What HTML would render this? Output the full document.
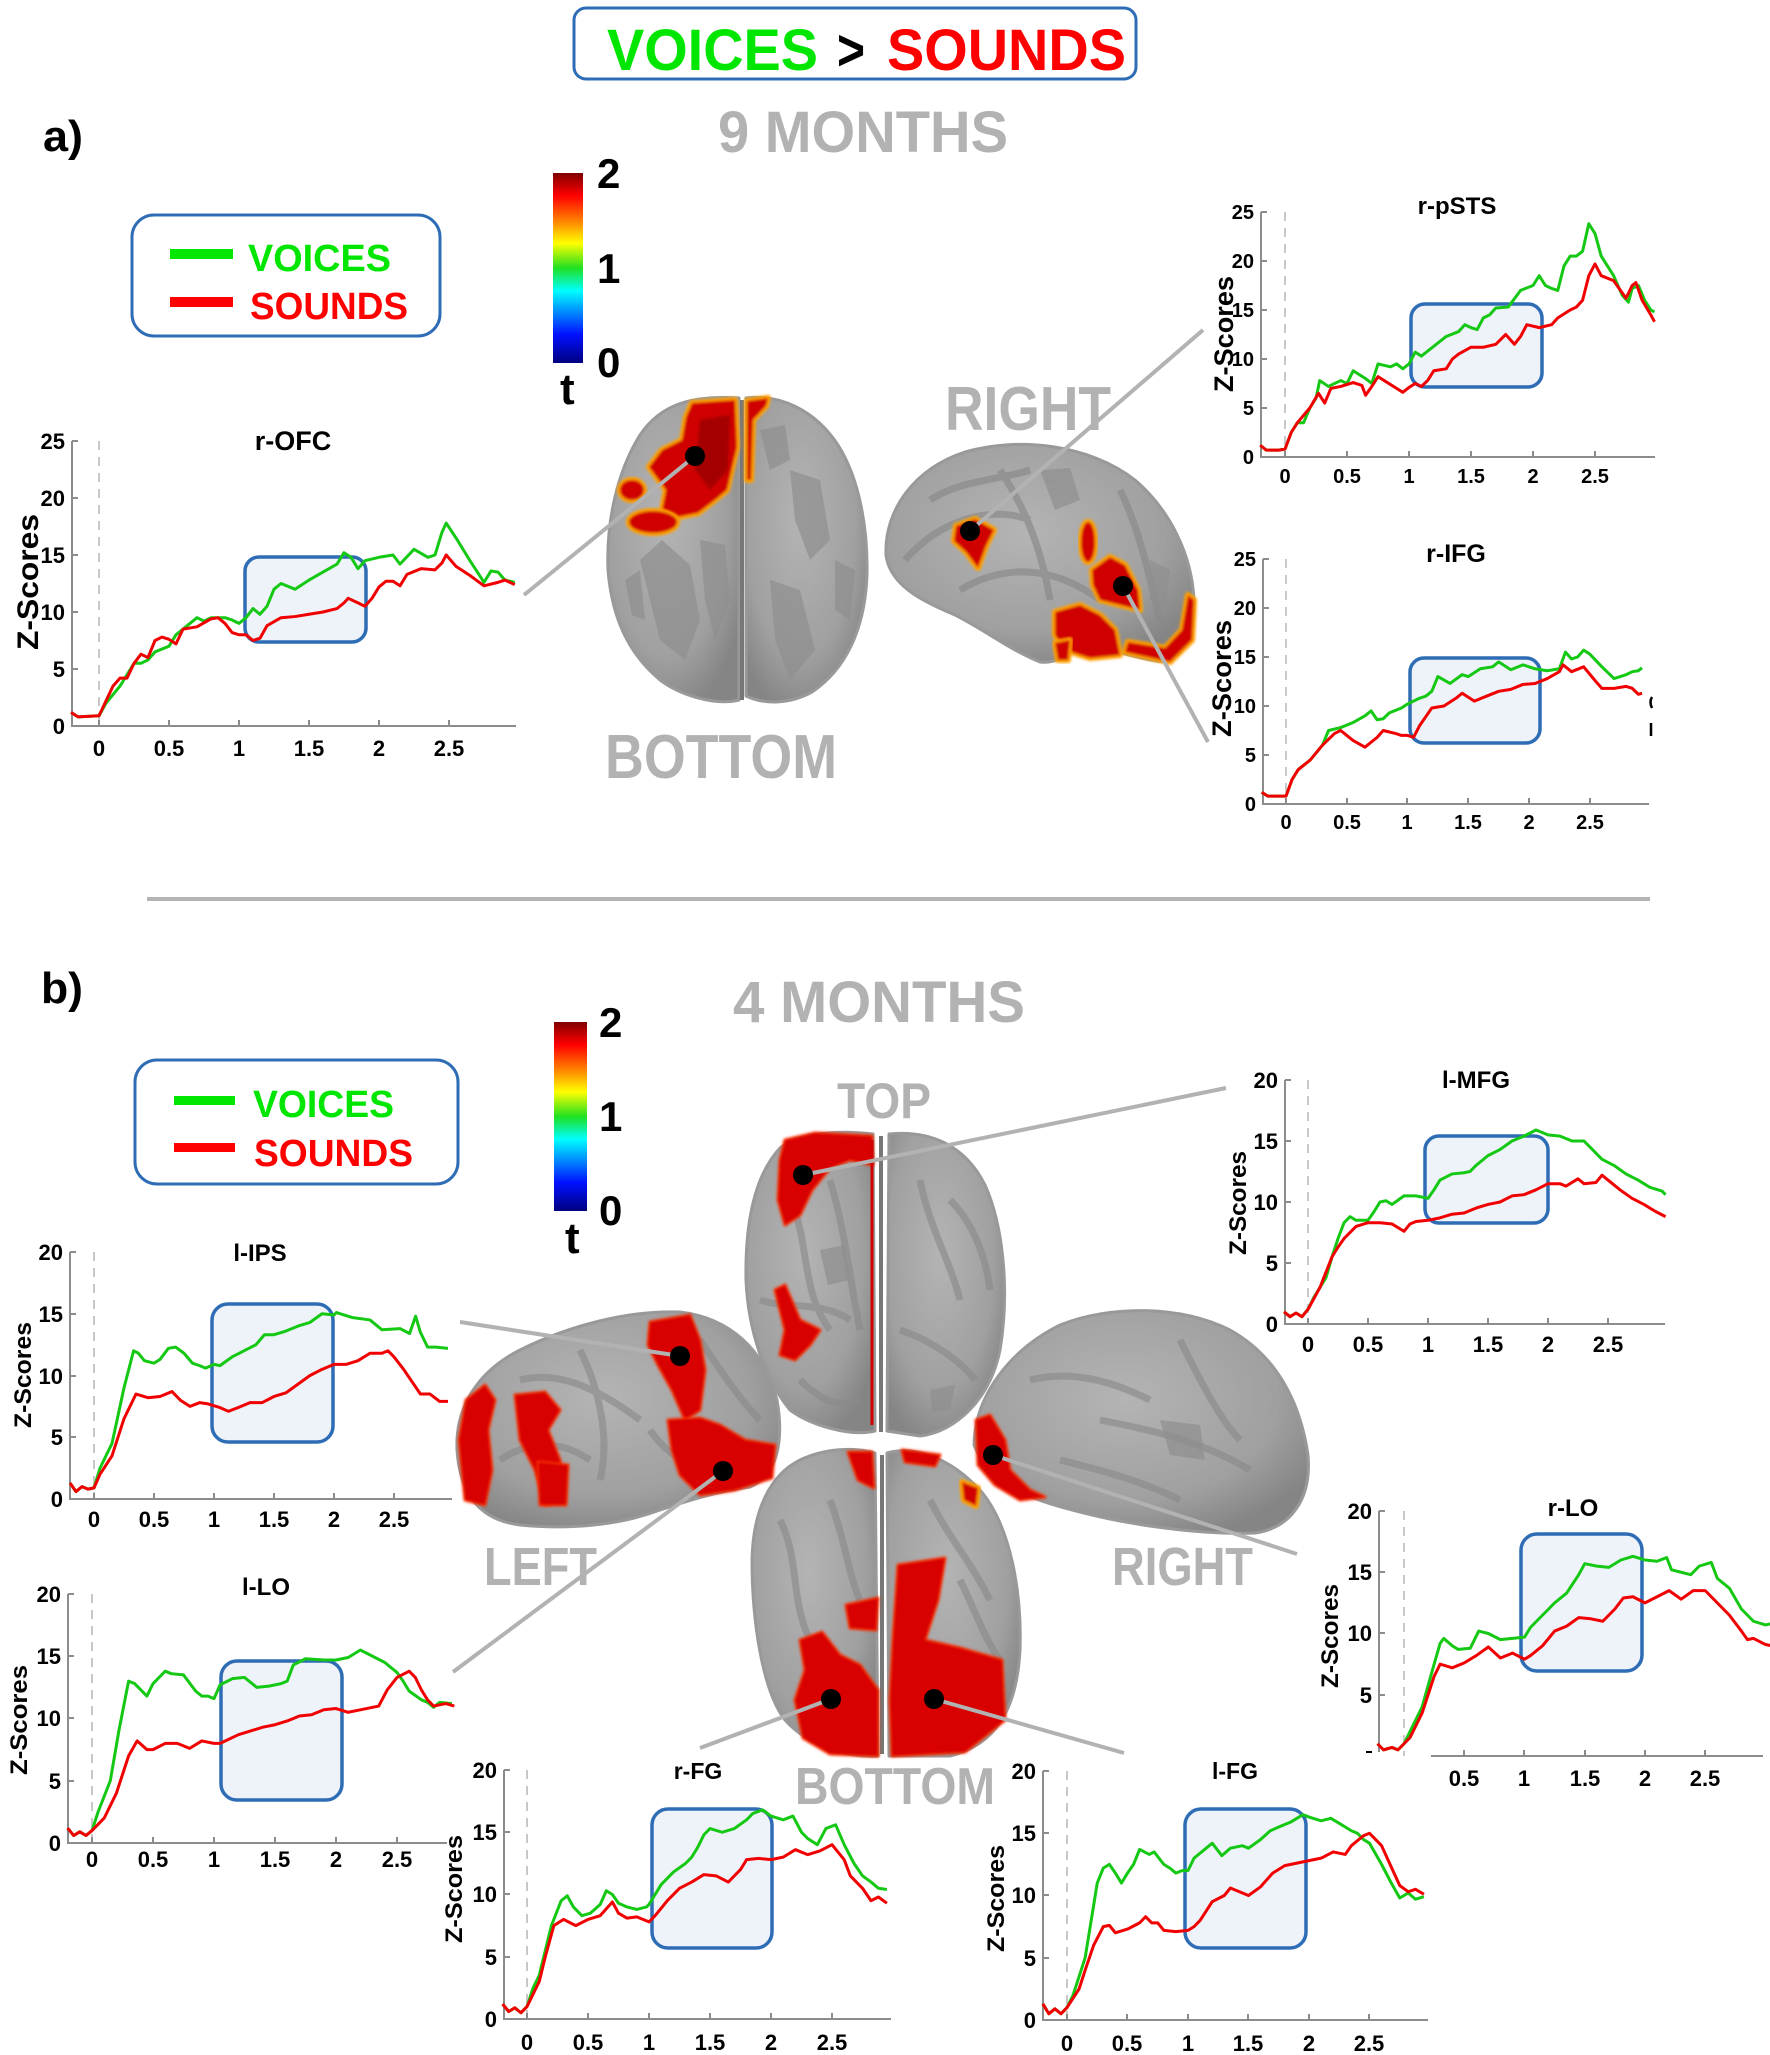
<!DOCTYPE html>
<html><head><meta charset="utf-8"><style>
html,body{margin:0;padding:0;background:#fff}
svg{display:block}
text{font-family:"Liberation Sans",Arial,sans-serif;font-weight:bold}
.ax{stroke:#8c8c8c;stroke-width:2;fill:none}
.dz{stroke:#c8c8c8;stroke-width:2;stroke-dasharray:9,7;fill:none}
.bx{fill:#eef3fa;stroke:#2e6db5;stroke-width:3.5}
.lab{fill:#b2b2b2}
.con{stroke:#b2b2b2;stroke-width:4;fill:none}
.brn{fill:url(#bg);stroke:#999;stroke-width:3;stroke-linejoin:round}
.sul{fill:#8f8f8f;opacity:.7}
.ra{fill:#d00000;stroke:#ffa000;stroke-width:6;paint-order:stroke;stroke-linejoin:round;filter:url(#soft)}
.rb{fill:#d80000;stroke:#ff3000;stroke-width:3;paint-order:stroke;stroke-linejoin:round;filter:url(#soft)}
</style></head><body>
<svg xmlns="http://www.w3.org/2000/svg" width="1770" height="2055" viewBox="0 0 1770 2055">
<defs>
<linearGradient id="jet" x1="0" y1="0" x2="0" y2="1">
<stop offset="0" stop-color="#800000"/><stop offset="0.12" stop-color="#ff0000"/><stop offset="0.25" stop-color="#ff8000"/><stop offset="0.37" stop-color="#ffff00"/><stop offset="0.5" stop-color="#20e020"/><stop offset="0.62" stop-color="#00ffff"/><stop offset="0.85" stop-color="#0010ff"/><stop offset="1" stop-color="#00007f"/>
</linearGradient>
<radialGradient id="bg" cx="0.45" cy="0.4" r="0.65">
<stop offset="0" stop-color="#b4b4b4"/><stop offset="0.7" stop-color="#a0a0a0"/><stop offset="1" stop-color="#858585"/>
</radialGradient>
<filter id="soft" x="-20%" y="-20%" width="140%" height="140%"><feGaussianBlur stdDeviation="1.4"/></filter>
</defs>

<!-- header -->
<rect x="574" y="8" width="562" height="71" rx="12" fill="#fff" stroke="#2e6db5" stroke-width="3"/>
<text x="607" y="70" font-size="58" fill="#00e600" textLength="211" lengthAdjust="spacingAndGlyphs">VOICES</text>
<text x="837" y="70" font-size="58" fill="#000" textLength="28" lengthAdjust="spacingAndGlyphs">&gt;</text>
<text x="887" y="70" font-size="58" fill="#ff0000" textLength="239" lengthAdjust="spacingAndGlyphs">SOUNDS</text>

<text x="43" y="151" font-size="44" textLength="40" lengthAdjust="spacingAndGlyphs">a)</text>
<text x="718" y="152" font-size="58" class="lab" textLength="290" lengthAdjust="spacingAndGlyphs">9 MONTHS</text>

<!-- colorbar a -->
<rect x="553" y="173" width="30" height="190" fill="url(#jet)"/>
<text x="597" y="188" font-size="42">2</text>
<text x="597" y="283" font-size="42">1</text>
<text x="597" y="377" font-size="42">0</text>
<text x="560" y="404" font-size="44">t</text>

<!-- legend a -->
<rect x="132" y="215" width="308" height="121" rx="22" fill="#fff" stroke="#2e6db5" stroke-width="3"/>
<line x1="170" y1="254" x2="233" y2="254" stroke="#00e600" stroke-width="10"/>
<text x="248" y="271" font-size="38" fill="#00e600" textLength="143" lengthAdjust="spacingAndGlyphs">VOICES</text>
<line x1="170" y1="302" x2="233" y2="302" stroke="#ff0000" stroke-width="10"/>
<text x="250" y="319" font-size="38" fill="#ff0000" textLength="158" lengthAdjust="spacingAndGlyphs">SOUNDS</text>

<!-- brain labels a -->
<text x="945" y="430" font-size="62" class="lab" textLength="166" lengthAdjust="spacingAndGlyphs">RIGHT</text>
<text x="605" y="778" font-size="62" class="lab" textLength="232" lengthAdjust="spacingAndGlyphs">BOTTOM</text>

<!-- brain a bottom view -->
<path class="brn" d="M739,398 L739,700 C715,706 680,695 660,680 C630,655 612,620 608,570 C606,520 618,470 640,435 C660,405 690,395 739,398 Z"/>
<path class="brn" d="M746,398 C780,394 815,410 838,445 C860,480 868,530 867,575 C865,630 845,670 812,692 C790,704 765,705 746,696 Z"/>
<polygon class="sul" points="640,560 662,540 690,565 700,620 685,660 660,640 650,600"/>
<polygon class="sul" points="700,540 725,545 730,600 715,640 705,600"/>
<polygon class="sul" points="625,580 640,570 645,620 632,615"/>
<polygon class="sul" points="790,470 820,480 830,540 810,560 795,520"/>
<polygon class="sul" points="770,580 800,590 815,650 790,680 775,640"/>
<polygon class="sul" points="835,560 855,570 850,620 835,610"/>
<polygon class="sul" points="760,430 785,425 790,460 770,470"/>
<line x1="742" y1="400" x2="742" y2="700" stroke="#777" stroke-width="4"/>
<polygon class="ra" points="692,403 735,400 737,447 727,490 715,500 698,513 678,517 662,510 666,490 649,467 662,450 682,440 686,417"/>
<ellipse class="ra" cx="653" cy="522" rx="24" ry="11"/>
<ellipse class="ra" cx="632" cy="490" rx="12" ry="10"/>
<polygon class="ra" points="747,401 768,398 766,406 753,420 751,480 747,480"/>
<polygon fill="#a50000" filter="url(#soft)" points="700,420 730,415 728,470 710,490 695,470"/>

<!-- brain a right lateral -->
<path class="brn" d="M886,555 C884,510 915,468 965,452 C1020,436 1090,445 1135,480 C1170,510 1192,555 1194,600 C1195,635 1185,655 1165,662 C1140,660 1110,648 1080,645 C1070,655 1055,664 1040,662 C1010,650 985,630 955,615 C920,600 890,585 886,555 Z"/>
<path d="M905,560 C940,520 990,505 1030,520 M960,590 C1010,560 1060,570 1100,600 M1000,470 C1020,500 1040,540 1050,600 M1120,490 C1140,530 1150,580 1160,620 M930,500 C960,480 1000,480 1030,470" stroke="#8a8a8a" stroke-width="7" fill="none" opacity=".7"/>
<polygon class="sul" points="1040,470 1070,468 1080,500 1055,510"/>
<polygon class="sul" points="1150,560 1170,570 1165,610 1150,600"/>
<polygon class="ra" points="956,526 975,519 994,530 986,546 978,568 966,552 954,541"/>
<ellipse class="ra" cx="1088" cy="542" rx="7" ry="20"/>
<polygon class="ra" points="1092,570 1110,557 1125,565 1138,590 1140,610 1120,605 1100,600 1093,585"/>
<polygon class="ra" points="1055,612 1080,605 1100,615 1115,630 1120,655 1090,658 1065,650 1055,635"/>
<polygon class="ra" points="1188,595 1194,600 1192,640 1170,662 1125,652 1128,642 1165,648 1182,630"/>
<polygon class="ra" points="1055,643 1070,640 1068,660 1058,660"/>

<!-- connectors a -->
<line class="con" x1="524" y1="595" x2="695" y2="456"/>
<line class="con" x1="970" y1="531" x2="1203" y2="330"/>
<line class="con" x1="1123" y1="586" x2="1208" y2="742"/>
<circle cx="695" cy="456" r="10"/>
<circle cx="970" cy="531" r="10"/>
<circle cx="1123" cy="586" r="10"/>

<!-- ===== r-OFC ===== -->
<line class="dz" x1="99" y1="441" x2="99" y2="726"/>
<path class="ax" d="M72,441 V726 H516 M169,726 v-6 M239,726 v-6 M309,726 v-6 M379,726 v-6 M449,726 v-6 M99,726 v-6 M72,669 h6 M72,612 h6 M72,555 h6 M72,498 h6 M72,441 h6"/>
<g font-size="22" text-anchor="end"><text x="65" y="734">0</text><text x="65" y="677">5</text><text x="65" y="620">10</text><text x="65" y="563">15</text><text x="65" y="506">20</text><text x="65" y="449">25</text></g>
<g font-size="22" text-anchor="middle"><text x="99" y="756">0</text><text x="169" y="756">0.5</text><text x="239" y="756">1</text><text x="309" y="756">1.5</text><text x="379" y="756">2</text><text x="449" y="756">2.5</text></g>
<text x="293" y="450" font-size="27" text-anchor="middle">r-OFC</text>
<g transform="translate(27,582) rotate(-90)"><text x="-68" y="11" font-size="30" textLength="136" lengthAdjust="spacingAndGlyphs">Z-Scores</text></g>
<rect class="bx" x="245" y="557" width="121" height="85" rx="14"/>
<g transform="translate(99,726) scale(140,-11.4)">
<polyline vector-effect="non-scaling-stroke" fill="none" stroke="#14c814" stroke-width="3" stroke-linejoin="round" points="-0.2,1.2 -0.15,0.8 0,0.9 0.05,2 0.15,3.5 0.25,5.5 0.3,5.5 0.35,5.8 0.4,6.5 0.5,7 0.55,8 0.7,9.5 0.75,9.2 0.8,9.5 0.9,9.5 0.95,9.3 1,9 1.05,9.5 1.1,10.3 1.15,9.8 1.2,10.5 1.25,12 1.3,12.5 1.4,12 1.5,12.8 1.6,13.5 1.7,14.2 1.75,15.2 1.8,14.8 1.85,13.8 1.9,14.5 2,14.8 2.1,15 2.15,14.2 2.25,15.5 2.35,14.8 2.4,15 2.45,17 2.48,17.8 2.55,16.5 2.65,14.5 2.75,12.6 2.8,13.6 2.85,13.5 2.9,12.8 2.97,12.6"/>
<polyline vector-effect="non-scaling-stroke" fill="none" stroke="#f00000" stroke-width="3" stroke-linejoin="round" points="-0.2,1.2 -0.15,0.8 0,0.9 0.05,2.2 0.1,3.5 0.15,4.2 0.2,4.2 0.25,5.5 0.3,6.3 0.35,6 0.4,7.5 0.45,7.8 0.5,7.6 0.55,7.2 0.6,8.5 0.7,8.7 0.8,9.4 0.85,9.5 0.9,9 0.95,8.2 1,8 1.05,8 1.1,7.5 1.15,7.7 1.2,8.8 1.3,9.5 1.4,9.6 1.5,9.8 1.6,10 1.7,10.3 1.75,10.8 1.78,11.2 1.85,10.8 1.9,10.5 1.95,11.2 2,12.2 2.05,12.7 2.1,12.7 2.15,12.3 2.2,13.3 2.3,13.8 2.4,13.7 2.45,14.3 2.48,15 2.55,14 2.65,13.2 2.75,12.3 2.85,12.6 2.9,12.8 2.97,12.4"/>
</g>

<!-- ===== r-pSTS ===== -->
<line class="dz" x1="1285" y1="212" x2="1285" y2="457"/>
<path class="ax" d="M1261,212 V457 H1655 M1285,457 v-6 M1347,457 v-6 M1409,457 v-6 M1471,457 v-6 M1533,457 v-6 M1595,457 v-6 M1261,408 h6 M1261,359 h6 M1261,310 h6 M1261,261 h6 M1261,212 h6"/>
<g font-size="20" text-anchor="end"><text x="1254" y="464">0</text><text x="1254" y="415">5</text><text x="1254" y="366">10</text><text x="1254" y="317">15</text><text x="1254" y="268">20</text><text x="1254" y="219">25</text></g>
<g font-size="20" text-anchor="middle"><text x="1285" y="483">0</text><text x="1347" y="483">0.5</text><text x="1409" y="483">1</text><text x="1471" y="483">1.5</text><text x="1533" y="483">2</text><text x="1595" y="483">2.5</text></g>
<text x="1457" y="214" font-size="24" text-anchor="middle">r-pSTS</text>
<g transform="translate(1223,334) rotate(-90)"><text x="-58" y="10" font-size="27" textLength="116" lengthAdjust="spacingAndGlyphs">Z-Scores</text></g>
<rect class="bx" x="1411" y="304" width="131" height="83" rx="14"/>
<g transform="translate(1285,457) scale(124,-9.8)">
<polyline vector-effect="non-scaling-stroke" fill="none" stroke="#14c814" stroke-width="3" stroke-linejoin="round" points="-0.2,1.2 -0.15,0.7 -0.05,0.7 0,0.8 0.05,2.5 0.1,3.5 0.15,3.5 0.2,5 0.25,6 0.28,7.8 0.35,7.2 0.45,7.8 0.5,7.5 0.55,8.8 0.65,8 0.7,7.5 0.75,9.5 0.85,9.2 0.9,9.5 0.95,9 1,9.5 1.05,10.7 1.1,10.3 1.2,11.3 1.3,12.3 1.4,12.8 1.45,13.5 1.5,13.2 1.55,13 1.6,14.2 1.65,14.5 1.7,15.2 1.8,15.3 1.9,17 2,17.5 2.05,18.5 2.1,17.5 2.15,17.2 2.2,17 2.25,19.5 2.3,20.5 2.35,20.5 2.4,21 2.45,23.8 2.5,22.8 2.55,20.5 2.65,18.5 2.72,16.5 2.77,15.8 2.8,17.2 2.85,17.5 2.9,16 2.95,15 2.98,14.8"/>
<polyline vector-effect="non-scaling-stroke" fill="none" stroke="#f00000" stroke-width="3" stroke-linejoin="round" points="-0.2,1.2 -0.15,0.7 -0.05,0.7 0,0.8 0.05,2.5 0.1,3.5 0.2,5 0.27,6.5 0.32,5.5 0.37,7 0.45,7.2 0.55,7.6 0.62,7.3 0.65,6.3 0.7,7.2 0.75,8.2 0.8,7.8 0.9,7 0.95,6.6 1,7.1 1.05,7.5 1.1,7.2 1.15,7.8 1.2,8.8 1.3,9 1.35,10 1.4,10.5 1.5,11.2 1.6,11.2 1.7,11.5 1.78,12.5 1.85,11.5 1.9,12.3 1.95,13.5 2.05,13.2 2.15,13.5 2.2,14.2 2.3,15 2.35,15.3 2.4,16 2.45,18.5 2.5,19.7 2.55,18.5 2.65,18 2.75,16.2 2.8,17.5 2.83,17.8 2.88,16 2.95,14.5 2.98,13.8"/>
</g>

<!-- ===== r-IFG ===== -->
<line class="dz" x1="1286" y1="559" x2="1286" y2="804"/>
<path class="ax" d="M1263,559 V804 H1649 M1286,804 v-6 M1347,804 v-6 M1407,804 v-6 M1468,804 v-6 M1529,804 v-6 M1590,804 v-6 M1263,755 h6 M1263,706 h6 M1263,657 h6 M1263,608 h6 M1263,559 h6"/>
<g font-size="20" text-anchor="end"><text x="1256" y="811">0</text><text x="1256" y="762">5</text><text x="1256" y="713">10</text><text x="1256" y="664">15</text><text x="1256" y="615">20</text><text x="1256" y="566">25</text></g>
<g font-size="20" text-anchor="middle"><text x="1286" y="829">0</text><text x="1347" y="829">0.5</text><text x="1407" y="829">1</text><text x="1468" y="829">1.5</text><text x="1529" y="829">2</text><text x="1590" y="829">2.5</text></g>
<text x="1456" y="562" font-size="25" text-anchor="middle">r-IFG</text>
<g transform="translate(1221,679) rotate(-90)"><text x="-58" y="10" font-size="27" textLength="117" lengthAdjust="spacingAndGlyphs">Z-Scores</text></g>
<rect class="bx" x="1410" y="658" width="130" height="85" rx="14"/>
<path d="M1652,697 q-3,5 0,11 M1651,723 v13" stroke="#000" stroke-width="2.5" fill="none"/>
<g transform="translate(1286,804) scale(121.5,-9.8)">
<polyline vector-effect="non-scaling-stroke" fill="none" stroke="#14c814" stroke-width="3" stroke-linejoin="round" points="-0.2,1.2 -0.15,0.8 0,0.8 0.05,2.5 0.1,3.5 0.2,4.5 0.3,6 0.35,7.5 0.45,7.8 0.55,8.3 0.65,9 0.7,9.5 0.75,8.6 0.8,8.7 0.85,9.3 0.95,9.8 1,10.2 1.1,10.8 1.15,11 1.2,11.5 1.25,13 1.35,12.3 1.45,13.2 1.5,13 1.6,13.8 1.7,14 1.75,14.5 1.85,13.7 1.95,14.2 2.05,13.8 2.15,13.6 2.25,13.8 2.3,15.5 2.35,14.8 2.4,15 2.45,15.7 2.5,15.3 2.6,14 2.7,12.8 2.8,13.2 2.85,13.5 2.9,13.6 2.93,13.9"/>
<polyline vector-effect="non-scaling-stroke" fill="none" stroke="#f00000" stroke-width="3" stroke-linejoin="round" points="-0.2,1.2 -0.15,0.8 0,0.8 0.05,2.5 0.1,3.5 0.2,4.5 0.3,6 0.4,7.2 0.45,7.5 0.55,6.5 0.65,5.8 0.7,6.3 0.75,6.8 0.8,7.5 0.9,7.2 0.95,7 1,7 1.05,6.8 1.1,8 1.2,9.8 1.3,10 1.4,10.8 1.45,11.3 1.55,10.5 1.65,11 1.75,11.5 1.85,11.7 1.95,12.2 2.05,12.3 2.15,12.8 2.25,13.5 2.28,14.2 2.35,13.5 2.45,14 2.55,12.5 2.6,11.8 2.7,11.8 2.8,12 2.85,11.8 2.9,11.2 2.93,11.3"/>
</g>

<!-- separator -->
<line x1="147" y1="899" x2="1650" y2="899" stroke="#b4b4b4" stroke-width="4"/>

<!-- ===== section b ===== -->
<text x="41" y="1003" font-size="44" textLength="42" lengthAdjust="spacingAndGlyphs">b)</text>
<text x="733" y="1022" font-size="58" class="lab" textLength="292" lengthAdjust="spacingAndGlyphs">4 MONTHS</text>

<rect x="554" y="1022" width="33" height="189" fill="url(#jet)"/>
<text x="599" y="1037" font-size="42">2</text>
<text x="599" y="1131" font-size="42">1</text>
<text x="599" y="1225" font-size="42">0</text>
<text x="565" y="1253" font-size="44">t</text>

<rect x="135" y="1060" width="323" height="124" rx="22" fill="#fff" stroke="#2e6db5" stroke-width="3"/>
<line x1="174" y1="1100.5" x2="235" y2="1100.5" stroke="#00e600" stroke-width="9"/>
<text x="253" y="1117" font-size="38" fill="#00e600" textLength="141" lengthAdjust="spacingAndGlyphs">VOICES</text>
<line x1="174" y1="1147.5" x2="235" y2="1147.5" stroke="#ff0000" stroke-width="9"/>
<text x="254" y="1166" font-size="38" fill="#ff0000" textLength="159" lengthAdjust="spacingAndGlyphs">SOUNDS</text>

<text x="837" y="1118" font-size="50" class="lab" textLength="94" lengthAdjust="spacingAndGlyphs">TOP</text>
<text x="484" y="1585" font-size="54" class="lab" textLength="113" lengthAdjust="spacingAndGlyphs">LEFT</text>
<text x="1112" y="1585" font-size="54" class="lab" textLength="141" lengthAdjust="spacingAndGlyphs">RIGHT</text>
<text x="795" y="1804" font-size="52" class="lab" textLength="200" lengthAdjust="spacingAndGlyphs">BOTTOM</text>

<!-- top view brain -->
<path class="brn" d="M873,1134 L875,1431 C850,1437 810,1425 790,1410 C765,1380 748,1330 746,1280 C745,1220 755,1175 780,1148 C800,1132 840,1130 873,1134 Z"/>
<path class="brn" d="M889,1134 C930,1130 965,1145 985,1185 C1003,1225 1010,1290 1000,1350 C990,1400 955,1432 920,1436 L887,1431 Z"/>
<path d="M790,1200 C810,1240 800,1290 830,1330 M760,1300 C790,1310 820,1300 850,1320 M830,1180 C845,1230 850,1280 860,1330 M920,1180 C930,1230 950,1260 960,1300 M900,1330 C930,1340 960,1360 975,1380 M950,1200 C970,1220 985,1250 990,1290 M800,1380 C820,1400 840,1410 860,1400" stroke="#8a8a8a" stroke-width="7" fill="none" opacity=".65"/>
<polygon class="sul" points="820,1250 845,1245 850,1280 828,1285"/>
<polygon class="sul" points="930,1390 955,1385 950,1410 932,1412"/>
<line x1="881" y1="1136" x2="881" y2="1432" stroke="#777" stroke-width="4"/>
<polygon class="rb" points="785,1140 815,1133 872,1136 873,1165 850,1160 830,1168 812,1190 800,1215 785,1225 778,1200 780,1160"/>
<line x1="872" y1="1140" x2="872" y2="1425" stroke="#d00000" stroke-width="3"/>
<polygon class="rb" points="775,1290 785,1285 800,1320 820,1330 810,1345 795,1360 780,1355 785,1330"/>

<!-- bottom view brain b -->
<path class="brn" d="M875,1453 L878,1756 C850,1758 810,1748 785,1720 C762,1690 752,1620 752,1560 C753,1510 770,1475 800,1460 C825,1448 855,1447 875,1453 Z"/>
<path class="brn" d="M887,1453 C915,1445 950,1458 980,1490 C1010,1525 1022,1590 1020,1650 C1017,1710 995,1745 950,1756 L889,1756 Z"/>
<path d="M780,1520 C800,1560 790,1600 810,1640 M830,1500 C845,1540 850,1580 860,1600 M930,1500 C950,1540 970,1560 990,1600 M960,1580 C975,1610 985,1640 1000,1660" stroke="#8a8a8a" stroke-width="7" fill="none" opacity=".65"/>
<line x1="882" y1="1455" x2="882" y2="1754" stroke="#777" stroke-width="4"/>
<polygon class="rb" points="800,1640 822,1632 840,1655 860,1665 878,1690 878,1756 830,1754 803,1738 795,1700 805,1670"/>
<polygon class="rb" points="898,1565 945,1558 938,1600 925,1640 960,1648 1002,1660 1005,1720 965,1752 892,1756 890,1700 893,1640"/>
<polygon class="rb" points="848,1452 872,1452 874,1488 858,1480"/>
<polygon class="rb" points="902,1450 940,1455 935,1466 905,1462"/>
<polygon class="ra" points="962,1482 978,1488 976,1506 964,1500"/>
<polygon class="rb" points="846,1605 878,1598 876,1630 850,1628"/>

<!-- left lateral b -->
<path class="brn" d="M457,1450 C455,1405 480,1370 520,1350 C570,1325 630,1310 680,1312 C730,1318 765,1350 777,1400 C784,1440 778,1475 750,1487 C715,1492 690,1500 660,1510 C620,1525 570,1530 520,1525 C480,1520 460,1495 457,1450 Z"/>
<path d="M520,1380 C560,1370 600,1390 640,1420 M580,1350 C600,1390 610,1440 600,1480 M650,1430 C670,1460 700,1470 720,1480 M500,1460 C530,1440 560,1440 590,1460 M700,1340 C720,1370 740,1400 760,1420" stroke="#8a8a8a" stroke-width="7" fill="none" opacity=".65"/>
<polygon class="rb" points="459,1440 466,1400 485,1385 495,1400 488,1430 492,1470 485,1505 465,1500"/>
<polygon class="rb" points="515,1395 545,1392 560,1410 548,1430 560,1460 565,1500 545,1505 535,1470 520,1440"/>
<polygon class="rb" points="650,1322 690,1315 700,1340 705,1370 700,1410 685,1420 672,1390 658,1365 648,1345"/>
<polygon class="rb" points="668,1420 700,1418 720,1425 745,1440 775,1445 772,1478 735,1490 700,1495 680,1475 672,1450"/>
<polygon class="rb" points="538,1462 568,1465 566,1505 540,1505"/>

<!-- right lateral b -->
<path class="brn" d="M974,1445 C975,1395 1010,1350 1060,1325 C1110,1305 1180,1305 1230,1330 C1275,1355 1300,1400 1308,1455 C1312,1500 1290,1528 1255,1533 C1200,1535 1130,1525 1080,1512 C1030,1500 990,1485 974,1445 Z"/>
<path d="M1030,1380 C1070,1370 1110,1380 1150,1400 M1100,1420 C1150,1430 1200,1440 1250,1470 M1180,1340 C1200,1380 1220,1420 1240,1440 M1060,1460 C1100,1470 1140,1480 1180,1500" stroke="#8a8a8a" stroke-width="7" fill="none" opacity=".65"/>
<polygon class="sul" points="1160,1420 1200,1425 1205,1460 1170,1455"/>
<polygon class="rb" points="976,1420 990,1415 1005,1440 1010,1470 1030,1490 1045,1497 1020,1500 995,1485 978,1465"/>

<!-- connectors b -->
<line class="con" x1="803" y1="1175" x2="1226" y2="1088"/>
<line class="con" x1="680" y1="1356" x2="460" y2="1322"/>
<line class="con" x1="723" y1="1471" x2="453" y2="1672"/>
<line class="con" x1="993" y1="1455" x2="1297" y2="1554"/>
<line class="con" x1="831" y1="1699" x2="700" y2="1748"/>
<line class="con" x1="934" y1="1699" x2="1124" y2="1753"/>
<circle cx="803" cy="1175" r="10"/>
<circle cx="680" cy="1356" r="10"/>
<circle cx="723" cy="1471" r="10"/>
<circle cx="993" cy="1455" r="10"/>
<circle cx="831" cy="1699" r="10"/>
<circle cx="934" cy="1699" r="10"/>

<!-- ===== l-MFG ===== -->
<line class="dz" x1="1308" y1="1080" x2="1308" y2="1324"/>
<path class="ax" d="M1285,1080 V1324 H1665 M1308,1324 v-6 M1368,1324 v-6 M1428,1324 v-6 M1488,1324 v-6 M1548,1324 v-6 M1608,1324 v-6 M1285,1263 h6 M1285,1202 h6 M1285,1141 h6 M1285,1080 h6"/>
<g font-size="22" text-anchor="end"><text x="1278" y="1332">0</text><text x="1278" y="1271">5</text><text x="1278" y="1210">10</text><text x="1278" y="1149">15</text><text x="1278" y="1088">20</text></g>
<g font-size="22" text-anchor="middle"><text x="1308" y="1352">0</text><text x="1368" y="1352">0.5</text><text x="1428" y="1352">1</text><text x="1488" y="1352">1.5</text><text x="1548" y="1352">2</text><text x="1608" y="1352">2.5</text></g>
<text x="1476" y="1088" font-size="24" text-anchor="middle">l-MFG</text>
<g transform="translate(1237,1203) rotate(-90)"><text x="-52" y="9" font-size="24" textLength="104" lengthAdjust="spacingAndGlyphs">Z-Scores</text></g>
<rect class="bx" x="1425" y="1136" width="123" height="87" rx="14"/>
<g transform="translate(1308,1324) scale(120,-12.2)">
<polyline vector-effect="non-scaling-stroke" fill="none" stroke="#14c814" stroke-width="3" stroke-linejoin="round" points="-0.2,1 -0.15,0.6 -0.1,0.9 -0.05,0.6 0,1.2 0.05,2.2 0.1,3 0.15,3.8 0.2,5.5 0.25,7 0.3,8.3 0.35,8.8 0.4,8.5 0.5,8.5 0.55,9.2 0.6,10 0.65,10.1 0.7,9.8 0.8,10.5 0.9,10.5 1,10.3 1.05,11 1.1,11.8 1.2,12.3 1.3,12.4 1.35,12.5 1.4,13 1.5,13.8 1.6,14.3 1.7,15 1.8,15.4 1.9,15.9 2,15.5 2.1,15.4 2.2,15 2.3,15 2.35,14.5 2.45,13.5 2.55,13 2.65,12.3 2.75,11.8 2.85,11.2 2.95,10.9 2.98,10.6"/>
<polyline vector-effect="non-scaling-stroke" fill="none" stroke="#f00000" stroke-width="3" stroke-linejoin="round" points="-0.2,1 -0.15,0.6 -0.1,0.9 -0.05,0.6 0,1.2 0.1,3 0.2,5.5 0.25,6.3 0.3,7 0.4,8 0.5,8.3 0.6,8.3 0.7,8.2 0.8,7.6 0.85,8.2 0.9,8.4 1,8.5 1.1,8.7 1.2,9 1.3,9.1 1.4,9.5 1.5,9.8 1.6,10 1.7,10.5 1.8,10.6 1.9,11 2,11.5 2.1,11.5 2.15,11.3 2.25,11.9 2.3,11.5 2.4,11.6 2.45,12.2 2.5,11.8 2.6,11 2.7,10.3 2.8,9.8 2.9,9.2 2.98,8.8"/>
</g>

<!-- ===== l-IPS ===== -->
<line class="dz" x1="94" y1="1252" x2="94" y2="1499"/>
<path class="ax" d="M70,1252 V1499 H452 M94,1499 v-6 M154,1499 v-6 M214,1499 v-6 M274,1499 v-6 M334,1499 v-6 M394,1499 v-6 M70,1437 h6 M70,1376 h6 M70,1314 h6 M70,1252 h6"/>
<g font-size="22" text-anchor="end"><text x="63" y="1507">0</text><text x="63" y="1445">5</text><text x="63" y="1384">10</text><text x="63" y="1322">15</text><text x="63" y="1260">20</text></g>
<g font-size="22" text-anchor="middle"><text x="94" y="1527">0</text><text x="154" y="1527">0.5</text><text x="214" y="1527">1</text><text x="274" y="1527">1.5</text><text x="334" y="1527">2</text><text x="394" y="1527">2.5</text></g>
<text x="260" y="1261" font-size="24" text-anchor="middle">l-IPS</text>
<g transform="translate(22,1375) rotate(-90)"><text x="-53" y="9" font-size="24" textLength="106" lengthAdjust="spacingAndGlyphs">Z-Scores</text></g>
<rect class="bx" x="212" y="1304" width="121" height="138" rx="16"/>
<g transform="translate(94,1499) scale(120,-12.35)">
<polyline vector-effect="non-scaling-stroke" fill="none" stroke="#14c814" stroke-width="3" stroke-linejoin="round" points="-0.2,1.3 -0.15,0.6 -0.1,1 -0.05,0.8 0,0.9 0.05,2.5 0.15,4.5 0.25,9 0.33,12 0.37,11.8 0.42,11.2 0.5,11 0.55,11.3 0.62,12.2 0.68,12.3 0.75,11.8 0.82,11 0.88,10.8 0.93,10.6 1,10.9 1.05,10.8 1.15,11.5 1.25,12 1.35,12.5 1.42,13.3 1.5,13.3 1.6,13.6 1.7,14 1.8,14.3 1.9,15 2,14.9 2.02,15.1 2.15,14.7 2.3,14.5 2.4,13.7 2.55,13.8 2.63,13.4 2.68,14.8 2.72,13.5 2.78,12.3 2.85,12.3 2.95,12.2"/>
<polyline vector-effect="non-scaling-stroke" fill="none" stroke="#f00000" stroke-width="3" stroke-linejoin="round" points="-0.2,1.3 -0.15,0.6 -0.1,1 -0.05,0.8 0,0.9 0.05,2 0.15,3.5 0.25,6.5 0.35,8.5 0.45,8.2 0.55,8.3 0.65,8.7 0.72,8 0.8,7.5 0.88,7.8 0.95,7.7 1.05,7.4 1.12,7.1 1.2,7.4 1.3,7.8 1.4,7.8 1.5,8.3 1.6,8.6 1.7,9.3 1.8,10 1.9,10.5 2,10.9 2.1,10.9 2.2,11.2 2.3,11.8 2.4,11.8 2.45,12 2.5,11.5 2.58,10.5 2.65,9.5 2.72,8.5 2.8,8.5 2.88,7.9 2.95,7.9"/>
</g>

<!-- ===== l-LO ===== -->
<line class="dz" x1="92" y1="1594" x2="92" y2="1843"/>
<path class="ax" d="M68,1594 V1843 H447 M92,1843 v-6 M153,1843 v-6 M214,1843 v-6 M275,1843 v-6 M336,1843 v-6 M397,1843 v-6 M68,1781 h6 M68,1718 h6 M68,1656 h6 M68,1594 h6"/>
<g font-size="22" text-anchor="end"><text x="61" y="1851">0</text><text x="61" y="1789">5</text><text x="61" y="1726">10</text><text x="61" y="1664">15</text><text x="61" y="1602">20</text></g>
<g font-size="22" text-anchor="middle"><text x="92" y="1867">0</text><text x="153" y="1867">0.5</text><text x="214" y="1867">1</text><text x="275" y="1867">1.5</text><text x="336" y="1867">2</text><text x="397" y="1867">2.5</text></g>
<text x="266" y="1595" font-size="24" text-anchor="middle">l-LO</text>
<g transform="translate(18,1720) rotate(-90)"><text x="-55" y="9" font-size="24" textLength="110" lengthAdjust="spacingAndGlyphs">Z-Scores</text></g>
<rect class="bx" x="221" y="1661" width="121" height="139" rx="16"/>
<g transform="translate(92,1843) scale(122,-12.45)">
<polyline vector-effect="non-scaling-stroke" fill="none" stroke="#14c814" stroke-width="3" stroke-linejoin="round" points="-0.2,1.2 -0.15,0.6 -0.1,0.9 -0.05,0.6 0,1 0.05,2.5 0.15,5 0.22,9 0.3,13 0.35,12.8 0.45,11.8 0.5,12.8 0.6,13.8 0.65,13.6 0.75,13.5 0.85,12.2 0.9,11.8 0.95,11.8 1,11.6 1.05,12.7 1.15,13.2 1.25,13.3 1.35,12.5 1.45,12.6 1.55,12.8 1.6,13 1.65,14.3 1.75,14.8 1.9,14.7 2,14.7 2.1,14.9 2.2,15.5 2.3,15 2.4,14.5 2.5,13.7 2.55,13 2.6,12.2 2.7,11.5 2.75,11.3 2.8,10.9 2.85,11.3 2.95,11.2"/>
<polyline vector-effect="non-scaling-stroke" fill="none" stroke="#f00000" stroke-width="3" stroke-linejoin="round" points="-0.2,1.2 -0.15,0.6 -0.1,0.9 -0.05,0.6 0,1 0.1,2 0.2,4 0.3,7 0.37,8.2 0.45,7.5 0.5,7.5 0.6,8 0.7,8 0.8,7.6 0.9,8.2 1,8 1.05,8 1.2,8.7 1.3,9 1.4,9.3 1.5,9.5 1.6,9.8 1.7,10.2 1.8,10.3 1.9,10.7 2,10.8 2.1,10.5 2.2,10.7 2.3,10.9 2.35,11 2.42,12.3 2.5,13.3 2.6,13.8 2.65,13.3 2.7,12.3 2.75,11.5 2.8,11 2.9,11.2 2.97,11"/>
</g>

<!-- ===== r-FG ===== -->
<line class="dz" x1="527" y1="1770" x2="527" y2="2019"/>
<path class="ax" d="M504,1770 V2019 H891 M527,2019 v-6 M588,2019 v-6 M649,2019 v-6 M710,2019 v-6 M771,2019 v-6 M832,2019 v-6 M504,1957 h6 M504,1894 h6 M504,1832 h6 M504,1770 h6"/>
<g font-size="22" text-anchor="end"><text x="497" y="2027">0</text><text x="497" y="1965">5</text><text x="497" y="1902">10</text><text x="497" y="1840">15</text><text x="497" y="1778">20</text></g>
<g font-size="22" text-anchor="middle"><text x="527" y="2050">0</text><text x="588" y="2050">0.5</text><text x="649" y="2050">1</text><text x="710" y="2050">1.5</text><text x="771" y="2050">2</text><text x="832" y="2050">2.5</text></g>
<text x="698" y="1779" font-size="23" text-anchor="middle">r-FG</text>
<g transform="translate(453,1889) rotate(-90)"><text x="-54" y="9" font-size="24" textLength="108" lengthAdjust="spacingAndGlyphs">Z-Scores</text></g>
<rect class="bx" x="652" y="1809" width="120" height="139" rx="16"/>
<g transform="translate(527,2019) scale(122,-12.45)">
<polyline vector-effect="non-scaling-stroke" fill="none" stroke="#14c814" stroke-width="3" stroke-linejoin="round" points="-0.2,1.2 -0.15,0.6 -0.1,0.9 -0.05,0.5 0,1 0.05,2.5 0.1,3.5 0.15,5.5 0.2,7.5 0.28,9.5 0.33,9.9 0.38,9 0.45,8.3 0.52,8.5 0.6,9.2 0.65,10.3 0.7,10 0.75,9.3 0.82,9 0.9,8.8 0.98,9 1,9.2 1.05,10 1.1,10.8 1.2,11.8 1.3,12.5 1.35,13 1.4,13.8 1.45,14.8 1.5,15.3 1.6,15 1.7,15.3 1.8,16 1.85,16.5 1.93,16.8 2,16.3 2.1,16 2.18,16.3 2.25,15 2.3,14.5 2.38,14 2.45,15.3 2.53,15.6 2.6,14 2.68,12.5 2.75,11.5 2.82,11 2.88,10.5 2.95,10.4"/>
<polyline vector-effect="non-scaling-stroke" fill="none" stroke="#f00000" stroke-width="3" stroke-linejoin="round" points="-0.2,1.2 -0.15,0.6 -0.1,0.9 -0.05,0.5 0,1 0.1,3 0.15,5 0.22,7.5 0.3,8 0.4,7.5 0.5,8 0.6,8.3 0.7,9.4 0.75,8.5 0.82,8.1 0.9,8.2 1,7.8 1.05,8.3 1.15,9.5 1.25,10.5 1.35,11 1.45,11.6 1.55,11.5 1.65,11 1.75,12 1.8,12.8 1.9,12.9 2,12.8 2.1,13 2.2,13.6 2.3,13.2 2.4,13.5 2.5,14 2.6,12.8 2.65,11.5 2.75,10.5 2.82,9.5 2.88,9.8 2.95,9.3"/>
</g>

<!-- ===== l-FG ===== -->
<line class="dz" x1="1067" y1="1771" x2="1067" y2="2020"/>
<path class="ax" d="M1043,1771 V2020 H1428 M1067,2020 v-6 M1127,2020 v-6 M1188,2020 v-6 M1248,2020 v-6 M1309,2020 v-6 M1369,2020 v-6 M1043,1958 h6 M1043,1895 h6 M1043,1833 h6 M1043,1771 h6"/>
<g font-size="22" text-anchor="end"><text x="1036" y="2028">0</text><text x="1036" y="1966">5</text><text x="1036" y="1903">10</text><text x="1036" y="1841">15</text><text x="1036" y="1779">20</text></g>
<g font-size="22" text-anchor="middle"><text x="1067" y="2051">0</text><text x="1127" y="2051">0.5</text><text x="1188" y="2051">1</text><text x="1248" y="2051">1.5</text><text x="1309" y="2051">2</text><text x="1369" y="2051">2.5</text></g>
<text x="1235" y="1779" font-size="23" text-anchor="middle">l-FG</text>
<g transform="translate(995,1898) rotate(-90)"><text x="-54" y="9" font-size="24" textLength="107" lengthAdjust="spacingAndGlyphs">Z-Scores</text></g>
<rect class="bx" x="1185" y="1809" width="121" height="139" rx="16"/>
<g transform="translate(1067,2020) scale(121,-12.45)">
<polyline vector-effect="non-scaling-stroke" fill="none" stroke="#14c814" stroke-width="3" stroke-linejoin="round" points="-0.2,1.3 -0.15,0.5 -0.1,0.9 -0.05,0.5 0,1 0.05,2 0.1,3.5 0.15,5 0.2,8 0.25,11 0.3,12.2 0.35,12.5 0.4,11.8 0.45,11 0.5,11.8 0.55,12.5 0.6,13.7 0.68,13.3 0.72,13.5 0.8,12.5 0.85,12.2 0.9,11.8 0.95,12 1,12 1.05,13 1.15,13.8 1.2,14.2 1.28,13.2 1.35,13.8 1.45,14 1.5,13.8 1.6,14.5 1.68,15.2 1.75,15.5 1.85,15.9 1.95,16.5 2,16.3 2.1,16 2.18,16.2 2.25,15.8 2.35,15.2 2.4,15 2.45,14.5 2.5,14.2 2.6,12.5 2.68,11 2.75,9.8 2.82,10.2 2.88,9.7 2.95,9.9"/>
<polyline vector-effect="non-scaling-stroke" fill="none" stroke="#f00000" stroke-width="3" stroke-linejoin="round" points="-0.2,1.3 -0.15,0.5 -0.1,0.9 -0.05,0.5 0,1 0.1,2.5 0.15,4 0.22,6 0.3,7.5 0.35,7.6 0.4,7 0.5,7.3 0.6,7.8 0.65,8.3 0.7,7.8 0.75,7.8 0.8,7.2 0.9,7.1 1,7.2 1.05,7.5 1.1,8 1.2,9.5 1.3,10 1.35,10.6 1.45,10.2 1.5,10 1.6,10.7 1.7,11.8 1.8,12.4 1.9,12.6 2,12.8 2.1,13 2.2,13.5 2.3,13.3 2.35,14 2.45,14.8 2.5,15 2.55,14.5 2.6,14 2.67,12.5 2.75,10.8 2.82,10.3 2.88,10.5 2.95,10.1"/>
</g>

<!-- ===== r-LO ===== -->
<line class="dz" x1="1404" y1="1511" x2="1404" y2="1756"/>
<path class="ax" d="M1379,1511 V1752 M1431,1756 H1763 M1464,1756 v-6 M1524,1756 v-6 M1585,1756 v-6 M1645,1756 v-6 M1705,1756 v-6 M1379,1695 h6 M1379,1633 h6 M1379,1572 h6 M1379,1511 h6"/>
<line x1="1366" y1="1752" x2="1372" y2="1752" stroke="#000" stroke-width="2"/>
<g font-size="22" text-anchor="end"><text x="1372" y="1703">5</text><text x="1372" y="1641">10</text><text x="1372" y="1580">15</text><text x="1372" y="1519">20</text></g>
<g font-size="22" text-anchor="middle"><text x="1464" y="1786">0.5</text><text x="1524" y="1786">1</text><text x="1585" y="1786">1.5</text><text x="1645" y="1786">2</text><text x="1705" y="1786">2.5</text></g>
<text x="1573" y="1516" font-size="24" text-anchor="middle">r-LO</text>
<g transform="translate(1329,1636) rotate(-90)"><text x="-52" y="9" font-size="24" textLength="104" lengthAdjust="spacingAndGlyphs">Z-Scores</text></g>
<rect class="bx" x="1521" y="1534" width="121" height="137" rx="16"/>
<g transform="translate(1404,1756) scale(120.5,-12.25)">
<polyline vector-effect="non-scaling-stroke" fill="none" stroke="#14c814" stroke-width="3" stroke-linejoin="round" points="-0.22,1 -0.17,0.5 -0.1,0.7 -0.05,0.5 0,1 0.05,2 0.15,4 0.25,7.5 0.3,9.2 0.33,9.6 0.4,9 0.45,8.7 0.55,8.8 0.62,10.2 0.7,10 0.8,9.5 0.9,9.6 1,9.7 1.05,10.5 1.15,11.5 1.25,12.5 1.35,13.3 1.45,14.8 1.5,15.7 1.6,15.5 1.7,15.4 1.8,16 1.9,16.3 2,16 2.1,15.9 2.18,16.2 2.22,15.2 2.3,15 2.38,14.8 2.45,15.5 2.55,15.8 2.6,14.5 2.7,13.7 2.8,12 2.9,11 3,10.7 3.05,10.8"/>
<polyline vector-effect="non-scaling-stroke" fill="none" stroke="#f00000" stroke-width="3" stroke-linejoin="round" points="-0.22,1 -0.17,0.5 -0.1,0.7 -0.05,0.5 0,1 0.05,1.5 0.15,3.5 0.25,6.5 0.3,7.5 0.4,7.2 0.5,7.6 0.6,8.2 0.7,8.9 0.8,8 0.9,8.4 1,7.9 1.05,8.2 1.15,9 1.25,10.2 1.35,10.6 1.45,11.3 1.55,11.2 1.65,11 1.75,12 1.82,12.9 1.9,13 2,12.5 2.1,13 2.2,13.5 2.3,12.8 2.4,13.5 2.5,13.5 2.6,12.5 2.7,11.5 2.8,10.2 2.85,9.5 2.9,9.6 3,9.1 3.05,9"/>
</g>
</svg>
</body></html>
